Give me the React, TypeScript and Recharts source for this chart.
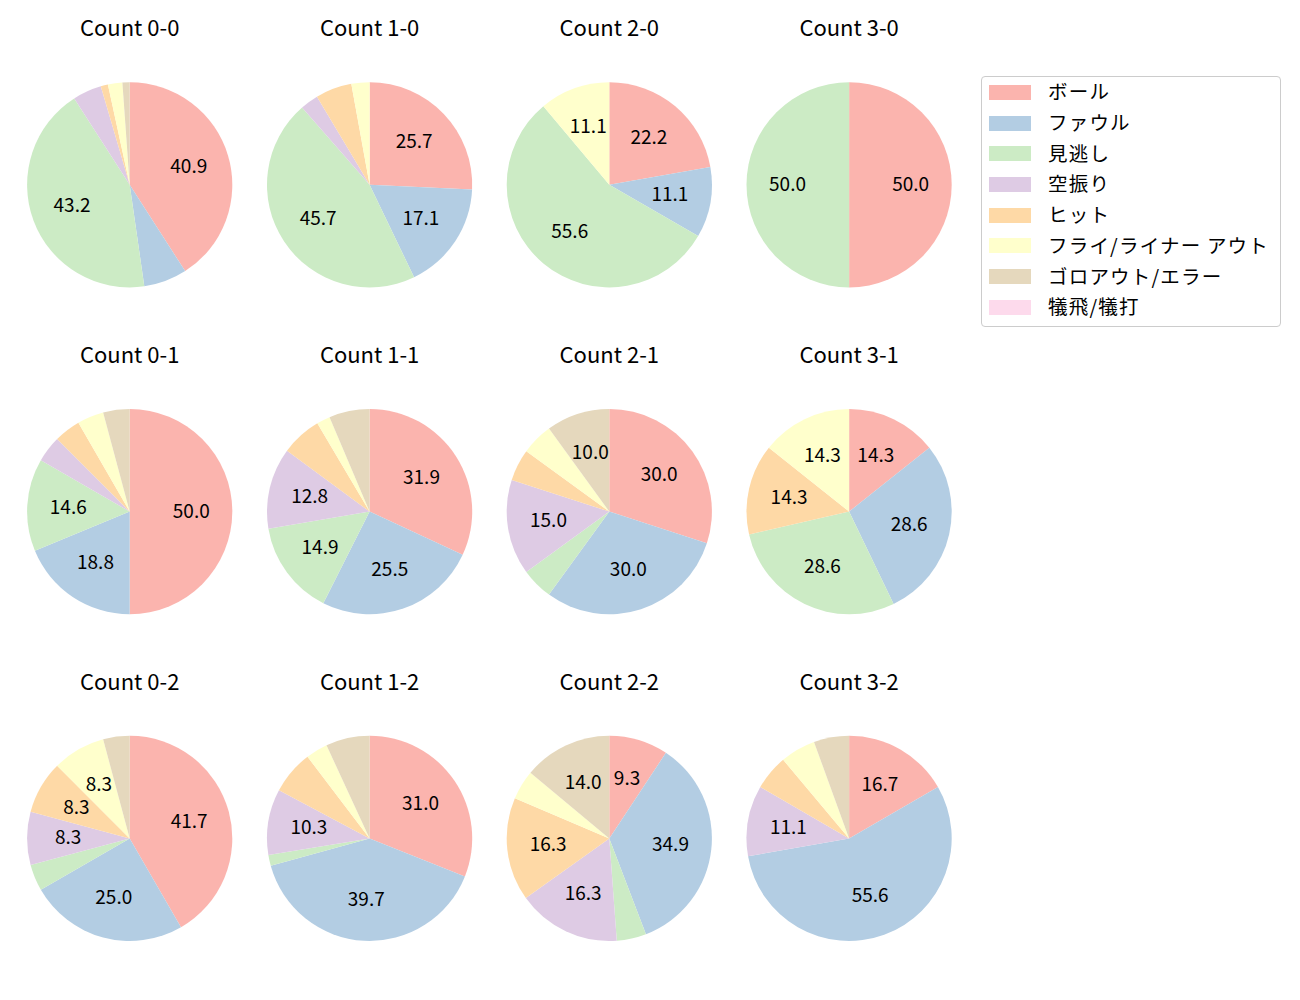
import React from 'react';
import { PieChart, Pie, Cell } from 'recharts';

const categories = ['ボール', 'ファウル', '見逃し', '空振り', 'ヒット', 'フライ/ライナー アウト', 'ゴロアウト/エラー', '犠飛/犠打'];
const colors = ['#fbb4ae', '#b3cde3', '#ccebc5', '#decbe4', '#fed9a6', '#ffffcc', '#e5d8bd', '#fddaec'];

const countTitles = [
  'Count 0-0', 'Count 1-0', 'Count 2-0', 'Count 3-0',
  'Count 0-1', 'Count 1-1', 'Count 2-1', 'Count 3-1',
  'Count 0-2', 'Count 1-2', 'Count 2-2', 'Count 3-2',
];

const count00 = [36, 6, 38, 4, 1, 2, 1, 0];
const count10 = [9, 6, 16, 1, 2, 1, 0, 0];
const count20 = [2, 1, 5, 0, 0, 1, 0, 0];
const count30 = [1, 0, 1, 0, 0, 0, 0, 0];
const count01 = [24, 9, 7, 2, 2, 2, 2, 0];
const count11 = [15, 12, 7, 6, 3, 1, 3, 0];
const count21 = [6, 6, 1, 3, 1, 1, 2, 0];
const count31 = [1, 2, 2, 0, 1, 1, 0, 0];
const count02 = [10, 6, 1, 2, 2, 2, 1, 0];
const count12 = [18, 23, 1, 6, 4, 2, 4, 0];
const count22 = [4, 15, 2, 7, 7, 2, 6, 0];
const count32 = [3, 10, 0, 2, 1, 1, 1, 0];

const allCounts = [
  count00, count10, count20, count30,
  count01, count11, count21, count31,
  count02, count12, count22, count32,
];

const FONT = '"Noto Sans CJK JP", "Noto Sans", sans-serif';
const colX = [129.7, 369.6, 609.3, 849.1];
const rowY = [184.8, 511.6, 838.4];
const R = 102.6;

const RAD = Math.PI / 180;

const renderLabel = (props: any) => {
  const { cx, cy, midAngle, outerRadius, percent } = props;
  if (!percent || percent < 0.08) return null;
  const r = outerRadius * 0.6;
  const x = cx + r * Math.cos(-midAngle * RAD);
  const y = cy + r * Math.sin(-midAngle * RAD);
  return (
    <text x={x} y={y - 2.5} textAnchor="middle" dominantBaseline="central" fontSize={19} fill="#000" fontFamily={FONT}>
      {(percent * 100).toFixed(1)}
    </text>
  );
};

export default function App() {
  const pies = allCounts.map((arr, i) => ({
    key: countTitles[i],
    cx: colX[i % 4],
    cy: rowY[Math.floor(i / 4)],
    data: categories.map((c, j) => ({ name: c, value: arr[j] })),
  }));

  return (
    <div style={{ position: 'absolute', left: 0, top: 0, width: 1300, height: 1000, background: '#fff', fontFamily: FONT }}>
      <PieChart width={1300} height={1000} margin={{ top: 0, right: 0, bottom: 0, left: 0 }}>
        {pies.map((p) => (
          <Pie
            key={p.key}
            data={p.data}
            dataKey="value"
            nameKey="name"
            cx={p.cx}
            cy={p.cy}
            outerRadius={R}
            innerRadius={0}
            startAngle={90}
            endAngle={-270}
            stroke="none"
            label={renderLabel}
            labelLine={false}
            isAnimationActive={false}
          >
            {p.data.map((d, j) => (
              <Cell key={d.name} fill={colors[j]} stroke="none" />
            ))}
          </Pie>
        ))}
      </PieChart>
      {pies.map((p) => (
        <div
          key={'t' + p.key}
          style={{
            position: 'absolute',
            left: p.cx - 100,
            width: 200,
            top: p.cy - 156 - 17.5,
            height: 30,
            lineHeight: '30px',
            textAlign: 'center',
            fontSize: 22,
            color: '#000',
            whiteSpace: 'nowrap',
          }}
        >
          {p.key}
        </div>
      ))}
      <div
        style={{
          position: 'absolute',
          left: 981,
          top: 76,
          width: 298,
          height: 249,
          border: '1px solid #cccccc',
          borderRadius: 4,
          background: 'rgba(255,255,255,0.8)',
        }}
      />
      {categories.map((c, i) => (
        <React.Fragment key={'l' + c}>
          <div
            style={{
              position: 'absolute',
              left: 989,
              top: 92.3 + i * 30.7 - 7.5,
              width: 42,
              height: 15,
              background: colors[i],
            }}
          />
          <div
            style={{
              position: 'absolute',
              left: 1048,
              top: 92.3 + i * 30.7 - 16,
              height: 30,
              lineHeight: '30px',
              fontSize: 19.5,
              letterSpacing: '1.2px',
              color: '#000',
              whiteSpace: 'nowrap',
            }}
          >
            {c}
          </div>
        </React.Fragment>
      ))}
    </div>
  );
}
